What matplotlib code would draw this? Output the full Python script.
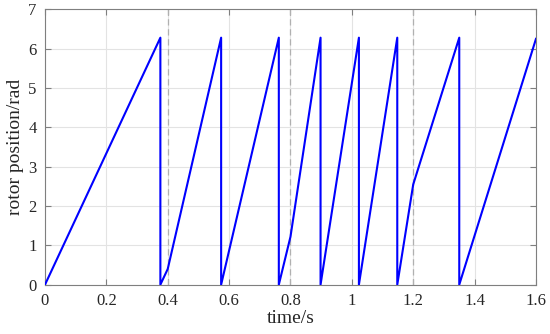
import matplotlib
matplotlib.use("Agg")
import matplotlib.pyplot as plt

# vertices of the rotor position trace (time in s, position in rad)
time_s = [0, 0.376, 0.376, 0.4, 0.574, 0.574, 0.762, 0.762, 0.8, 0.898, 0.898,
          1.023, 1.023, 1.148, 1.148, 1.2, 1.35, 1.35, 1.6]
position_rad = [0, 6.28, 0, 0.40, 6.28, 0, 6.28, 0, 1.22, 6.28, 0,
                6.28, 0, 6.28, 0, 2.55, 6.28, 0, 6.25]
switch_times = [0.4, 0.8, 1.2]
xticks = [0, 0.2, 0.4, 0.6, 0.8, 1.0, 1.2, 1.4, 1.6]
xticklabels = ["0", "0.2", "0.4", "0.6", "0.8", "1", "1.2", "1.4", "1.6"]
yticks = [0, 1, 2, 3, 4, 5, 6, 7]

plt.rcParams['font.family'] = ['Liberation Serif', 'DejaVu Serif']

fig = plt.figure(figsize=(5.5, 3.34), dpi=100)
ax = fig.add_axes([0.0818, 0.1476, 0.8927, 0.8244])

ax.grid(True, color='#e3e3e3', linewidth=0.8)
ax.set_axisbelow(True)
for s in switch_times:
    ax.axvline(s, color='#b0b0b0', linestyle=(0, (5, 3)), linewidth=0.9, zorder=1.5)

ax.plot(time_s, position_rad, color='#0000ff', linewidth=1.5, zorder=3)

ax.set_xlim(0, 1.6)
ax.set_ylim(0, 7)
ax.set_xticks(xticks)
ax.set_xticklabels(xticklabels)
ax.set_yticks(yticks)
ax.tick_params(direction='in', top=True, right=True, labelsize=12, color='#7f7f7f',
               labelcolor='#262626', length=4, width=0.8, pad=6)
for sp in ax.spines.values():
    sp.set_color('#7f7f7f')
    sp.set_linewidth(0.8)

ax.set_xlabel('time/s', fontsize=14, labelpad=1, color='#262626')
ax.set_ylabel('rotor position/rad', fontsize=14, labelpad=3, color='#262626')

fig.savefig('out.png', dpi=100)
